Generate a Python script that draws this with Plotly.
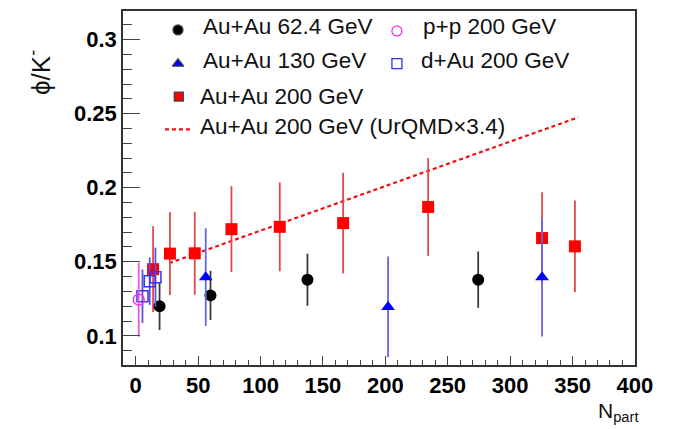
import plotly.graph_objects as go

# ---------------- data ----------------
auau62_npart = [19.1, 59.9, 137.6, 274.4]
auau62_ratio = [0.1199, 0.1273, 0.1379, 0.1379]
auau62_err = [0.016, 0.0166, 0.0176, 0.019]

auau130_npart = [56.1, 202.2, 325.6]
auau130_ratio = [0.1396, 0.1195, 0.1396]
auau130_err = [0.033, 0.034, 0.040]

auau200_npart = [13.9, 27.4, 47.3, 76.7, 115.4, 166.2, 234.3, 325.6, 351.9]
auau200_ratio = [0.145, 0.1555, 0.1557, 0.172, 0.1736, 0.1761, 0.187, 0.166, 0.1604]
auau200_err = [0.029, 0.028, 0.028, 0.029, 0.030, 0.034, 0.033, 0.031, 0.031]

pp_npart = [2.4]
pp_ratio = [0.1244]
pp_err = [0.025]

dau_npart = [5.4, 11.2, 15.8]
dau_ratio = [0.1267, 0.1369, 0.1396]
dau_err = [0.018, 0.016, 0.020]

urqmd_npart = [26.7, 234.3, 354.5]
urqmd_ratio = [0.149, 0.2114, 0.2475]

x_tickvals = [0, 50, 100, 150, 200, 250, 300, 350, 400]
y_tickvals = [0.1, 0.15, 0.2, 0.25, 0.3]
y_ticktext = ["0.1", "0.15", "0.2", "0.25", "0.3"]

legend_labels = ["Au+Au 62.4 GeV", "Au+Au 130 GeV", "Au+Au 200 GeV",
                 "Au+Au 200 GeV (UrQMD\u00d73.4)", "p+p 200 GeV", "d+Au 200 GeV"]

FONT = "Liberation Sans, Arial, sans-serif"

fig = go.Figure()

# UrQMD line
fig.add_trace(go.Scatter(x=urqmd_npart, y=urqmd_ratio, mode="lines",
                         line=dict(color="#ee1111", width=2.2, dash="4px,3px"),
                         showlegend=False, hoverinfo="skip"))

# Au+Au 200
fig.add_trace(go.Scatter(x=auau200_npart, y=auau200_ratio, mode="markers",
                         marker=dict(symbol="square", size=12, color="#ff0000"),
                         error_y=dict(type="data", array=auau200_err, width=0,
                                      thickness=1.8, color="#e24848"),
                         showlegend=False))
# Au+Au 62.4
fig.add_trace(go.Scatter(x=auau62_npart, y=auau62_ratio, mode="markers",
                         marker=dict(symbol="circle", size=12, color="#000000"),
                         error_y=dict(type="data", array=auau62_err, width=0,
                                      thickness=1.8, color="#3a3a3a"),
                         showlegend=False))
# Au+Au 130
fig.add_trace(go.Scatter(x=auau130_npart, y=auau130_ratio, mode="markers",
                         marker=dict(symbol="triangle-up", size=12, color="#0000ff"),
                         error_y=dict(type="data", array=auau130_err, width=0,
                                      thickness=1.8, color="#6666dd"),
                         showlegend=False))
# d+Au
fig.add_trace(go.Scatter(x=dau_npart, y=dau_ratio, mode="markers",
                         marker=dict(symbol="square-open", size=11, color="#3333ee",
                                     line=dict(width=1.5)),
                         error_y=dict(type="data", array=dau_err, width=0,
                                      thickness=1.8, color="#5555dd"),
                         showlegend=False))
# p+p
fig.add_trace(go.Scatter(x=pp_npart, y=pp_ratio, mode="markers",
                         marker=dict(symbol="circle-open", size=11, color="#ee33ee",
                                     line=dict(width=1.5)),
                         error_y=dict(type="data", array=pp_err, width=0,
                                      thickness=1.8, color="#ee55ee"),
                         showlegend=False))

# ---------------- manual legend (overlay axes in 0..1 plot fraction) ----------------
leg_sym_x = [0.1074, 0.1074, 0.109, 0.535, 0.535]
leg_sym_y = [0.9466, 0.8511, 0.7584, 0.9438, 0.8511]
leg_symbols = ["circle", "triangle-up", "square", "circle-open", "square-open"]
leg_colors = ["#000000", "#0000ff", "#ff0000", "#ee33ee", "#3333ee"]
leg_sizes = [10, 10, 9, 10, 10]
for sx, sy, sym, col, sz in zip(leg_sym_x, leg_sym_y, leg_symbols, leg_colors, leg_sizes):
    fig.add_trace(go.Scatter(x=[sx], y=[sy], xaxis="x2", yaxis="y2", mode="markers",
                             marker=dict(symbol=sym, size=sz, color=col, line=dict(width=1.3)),
                             showlegend=False, hoverinfo="skip"))
fig.add_trace(go.Scatter(x=[0.082, 0.1348], y=[0.6657, 0.6657], xaxis="x2", yaxis="y2",
                         mode="lines", line=dict(color="#ee1111", width=2.2, dash="4px,3px"),
                         showlegend=False, hoverinfo="skip"))

leg_text_x = [0.152, 0.152, 0.146, 0.146, 0.582, 0.578]
leg_text_y = [0.9559, 0.861, 0.7598, 0.675, 0.9559, 0.861]
for tx, ty, lab in zip(leg_text_x, leg_text_y, legend_labels):
    fig.add_annotation(x=tx, y=ty, xref="x domain", yref="y domain", text=lab,
                       showarrow=False, xanchor="left", yanchor="middle",
                       font=dict(family=FONT, size=22.5, color="#111111"))

# axis titles
fig.add_annotation(x=-0.162, y=0.825, xref="paper", yref="paper",
                   text="\u03d5/K<sup>-</sup>", showarrow=False, textangle=-90,
                   xanchor="center", yanchor="middle",
                   font=dict(family=FONT, size=26, color="#111"))
fig.add_annotation(x=0.967, y=-0.132, xref="paper", yref="paper",
                   text="N<sub>part</sub>", showarrow=False,
                   xanchor="center", yanchor="middle",
                   font=dict(family=FONT, size=21, color="#111"))

fig.update_layout(
    width=666, height=421,
    margin=dict(l=115, r=39, t=1, b=64, pad=0),
    paper_bgcolor="white", plot_bgcolor="white",
    showlegend=False,
    xaxis=dict(range=[-10.2, 400.05], tickvals=x_tickvals, ticks="inside", ticklen=9,
               tickwidth=1, tickcolor="#444", showgrid=False, zeroline=False,
               showline=True, linecolor="#333", linewidth=1.5, mirror=True,
               tickfont=dict(family=FONT, size=22, color="#000", weight="bold"),
               minor=dict(dtick=10, tick0=0, ticks="inside", ticklen=5, tickcolor="#444",
                          showgrid=False)),
    yaxis=dict(range=[0.0803, 0.3193], tickvals=y_tickvals, ticktext=y_ticktext,
               ticks="inside", ticklen=17, tickwidth=1, tickcolor="#444",
               showgrid=False, zeroline=False, showline=True, linecolor="#333",
               linewidth=1.5, mirror=True,
               tickfont=dict(family=FONT, size=22, color="#000", weight="bold"),
               minor=dict(dtick=0.01, tick0=0, ticks="inside", ticklen=9, tickcolor="#444",
                          showgrid=False)),
    xaxis2=dict(overlaying="x", range=[0, 1], visible=False),
    yaxis2=dict(overlaying="y", range=[0, 1], visible=False),
)

fig.write_html("out.html")
